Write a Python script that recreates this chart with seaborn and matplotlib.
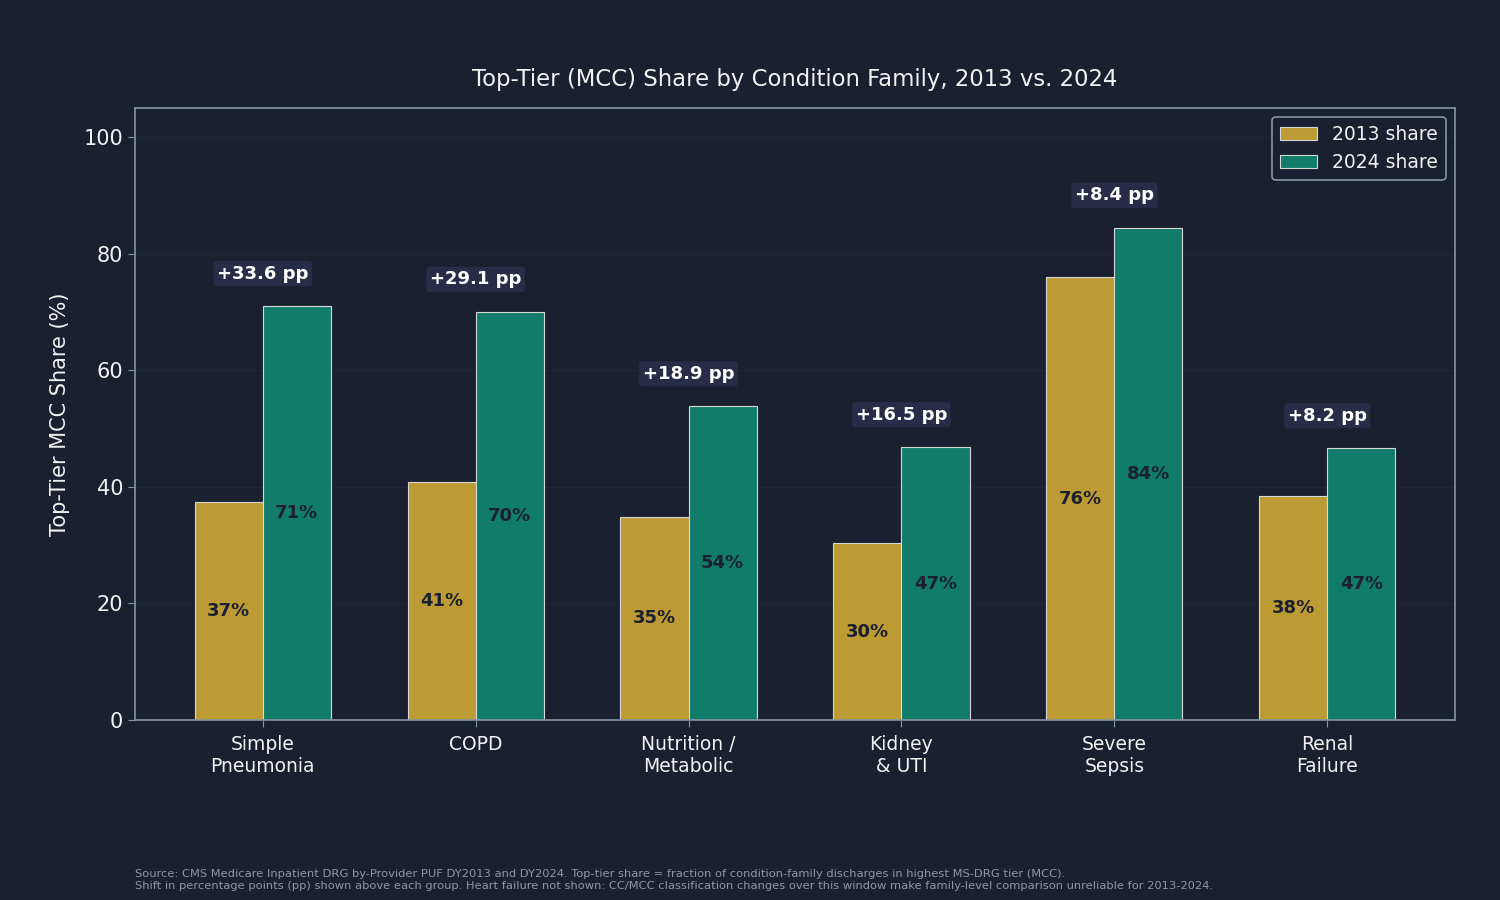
import matplotlib
matplotlib.use("Agg")
import matplotlib.pyplot as plt
import seaborn as sns
import pandas as pd

# data
families = ["Simple\nPneumonia", "COPD", "Nutrition /\nMetabolic", "Kidney\n& UTI", "Severe\nSepsis", "Renal\nFailure"]
share_2013 = [37.4, 40.9, 34.9, 30.3, 76.0, 38.4]
share_2024 = [71.0, 70.0, 53.8, 46.8, 84.4, 46.6]
series = ["2013 share", "2024 share"]

BG = "#1b2030"
GOLD = "#bc9b35"
TEAL = "#107c69"
TXT = "#f2f2f2"
SPINE = "#8593a6"

df = pd.DataFrame({
    "family": families * 2,
    "share": share_2013 + share_2024,
    "series": [series[0]] * len(families) + [series[1]] * len(families),
})

sns.set_style("dark")
plt.rcParams['font.family'] = ['DejaVu Sans']

fig = plt.figure(figsize=(15, 9), dpi=100, facecolor=BG)
ax = fig.add_axes([0.09, 0.2, 0.88, 0.68])
ax.set_facecolor(BG)

sns.barplot(data=df, x="family", y="share", hue="series", order=families,
            hue_order=series, palette=[GOLD, TEAL], saturation=1, width=0.64, gap=0,
            edgecolor="#d8d8d8", linewidth=0.8, ax=ax, errorbar=None)

# value labels inside bars
for cont in ax.containers:
    labels = [f"{b.get_height():.0f}%" for b in cont]
    ax.bar_label(cont, labels=labels, label_type="center", color=BG,
                 fontsize=13, fontweight="bold")

# shift annotations
for i in range(len(families)):
    diff = share_2024[i] - share_2013[i]
    top = max(share_2013[i], share_2024[i])
    ax.text(i, top + 5.6, f"+{diff:.1f} pp", ha="center", va="center",
            color="white", fontsize=13, fontweight="bold",
            bbox=dict(boxstyle="round,pad=0.2", facecolor="#282c47", edgecolor="none"))

ax.set_ylim(0, 105)
ax.set_xlim(-0.6, 5.6)
ax.set_yticks([0, 20, 40, 60, 80, 100])
ax.yaxis.grid(True, color="#222738", linewidth=0.8)
ax.xaxis.grid(False)
ax.set_axisbelow(True)

for s in ax.spines.values():
    s.set_visible(True)
    s.set_color(SPINE)
    s.set_linewidth(1.2)

ax.tick_params(axis="y", colors=SPINE, labelcolor=TXT, labelsize=15, length=5, left=True)
ax.tick_params(axis="x", colors=SPINE, labelcolor=TXT, labelsize=13.5, length=5, pad=6, bottom=True)

ax.set_xlabel("")
ax.set_ylabel("Top-Tier MCC Share (%)", color=TXT, fontsize=15, labelpad=10)
ax.set_title("Top-Tier (MCC) Share by Condition Family, 2013 vs. 2024",
             color=TXT, fontsize=16.4, pad=16)

leg = ax.legend(loc="upper right", fontsize=13.5, facecolor=BG, edgecolor=SPINE,
                labelcolor=TXT, framealpha=1)
leg.get_frame().set_linewidth(1.2)

fig.text(0.09, 0.01,
         "Source: CMS Medicare Inpatient DRG by-Provider PUF DY2013 and DY2024. Top-tier share = fraction of condition-family discharges in highest MS-DRG tier (MCC).\n"
         "Shift in percentage points (pp) shown above each group. Heart failure not shown: CC/MCC classification changes over this window make family-level comparison unreliable for 2013-2024.",
         color="#8f96a3", fontsize=8.25, ha="left", va="bottom", linespacing=1.2)

fig.savefig("out.png", dpi=100, facecolor=BG)
